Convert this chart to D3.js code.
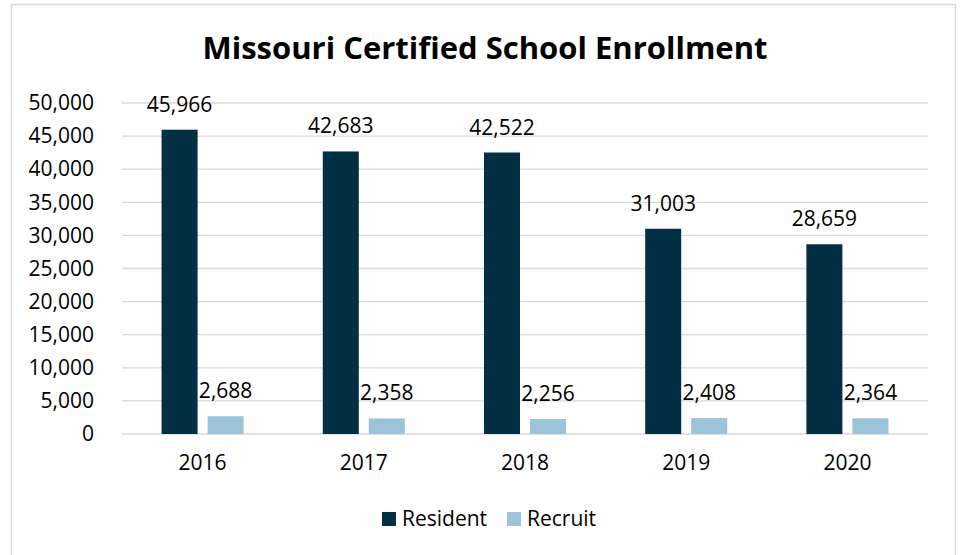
<!DOCTYPE html>
<html>
<head>
<meta charset="utf-8">
<script src="https://cdn.jsdelivr.net/npm/d3@7"></script>
<style>
  body { margin: 0; background: #fff; }
  text { font-family: "Open Sans", sans-serif; fill: #000; }
</style>
</head>
<body>
<div id="chart"></div>
<script>
let years = ['2016', '2017', '2018', '2019', '2020'];
let series = ['Resident', 'Recruit'];
let resident = [45966, 42683, 42522, 31003, 28659];
let recruit = [2688, 2358, 2256, 2408, 2364];
let yTicks = [0, 5000, 10000, 15000, 20000, 25000, 30000, 35000, 40000, 45000, 50000];
let title = 'Missouri Certified School Enrollment';

let width = 962;
let height = 555;

let margin = {
  top: 103,
  right: 34,
  bottom: 121,
  left: 122
};

let colors = {Resident: '#032f45', Recruit: '#9bc3d9'};

let data = years.map((y, i) => ({year: y, Resident: resident[i], Recruit: recruit[i]}));

// 年份分组
let x0 = d3.scaleBand()
  .domain(years)
  .range([margin.left, width - margin.right])
  .paddingInner(0.491)
  .paddingOuter(0.2455);

// 组内系列
let x1 = d3.scaleBand()
  .domain(series)
  .range([0, x0.bandwidth()])
  .paddingInner(10 / 46);

let y = d3.scaleLinear()
  .domain([0, 50000])
  .range([height - margin.bottom, margin.top]);

let fmt = d3.format(',');

const svg = d3.select('#chart').append('svg')
  .attr('width', width)
  .attr('height', height);

// 外框
svg.append('rect')
  .attr('x', 11.5)
  .attr('y', 4.5)
  .attr('width', 944)
  .attr('height', 560)
  .attr('fill', '#fff')
  .attr('stroke', '#d9d9d9')
  .attr('stroke-width', 1.5);

svg.append('text')
  .attr('x', 485)
  .attr('y', 59)
  .attr('text-anchor', 'middle')
  .attr('font-size', 31)
  .attr('font-weight', 'bold')
  .text(title);

// 网格线
svg.append('g')
  .selectAll('line')
  .data(yTicks)
  .join('line')
  .attr('x1', margin.left)
  .attr('x2', width - margin.right)
  .attr('y1', d => y(d))
  .attr('y2', d => y(d))
  .attr('stroke', '#d9d9d9')
  .attr('stroke-width', 1.3);

// y轴
svg.append('g')
  .attr('transform', `translate(94, 0)`)
  .call(d3.axisLeft(y).tickValues(yTicks).tickFormat(fmt).tickSize(0).tickPadding(0))
  .call(g => g.select('.domain').remove())
  .call(g => g.selectAll('text')
    .attr('font-family', '"Open Sans", sans-serif')
    .attr('font-size', 21)
    .attr('fill', '#000'));

// x轴
svg.append('g')
  .attr('transform', `translate(0, ${height - margin.bottom})`)
  .call(d3.axisBottom(x0).tickSize(0).tickPadding(21))
  .call(g => g.select('.domain').remove())
  .call(g => g.selectAll('text')
    .attr('font-family', '"Open Sans", sans-serif')
    .attr('font-size', 21)
    .attr('fill', '#000'));

let groups = svg.append('g')
  .selectAll('g')
  .data(data)
  .join('g')
  .attr('transform', d => `translate(${x0(d.year)}, 0)`);

groups.selectAll('rect')
  .data(d => series.map(s => ({key: s, value: d[s]})))
  .join('rect')
  .attr('x', d => x1(d.key))
  .attr('y', d => y(d.value))
  .attr('width', x1.bandwidth())
  .attr('height', d => y(0) - y(d.value))
  .attr('fill', d => colors[d.key]);

groups.selectAll('text.label')
  .data(d => series.map(s => ({key: s, value: d[s]})))
  .join('text')
  .attr('class', 'label')
  .attr('x', d => x1(d.key) + x1.bandwidth() / 2)
  .attr('y', d => y(d.value) - 18)
  .attr('text-anchor', 'middle')
  .attr('font-size', 21)
  .text(d => fmt(d.value));

// 图例
let legend = svg.append('g')
  .selectAll('g')
  .data(series)
  .join('g')
  .attr('transform', (d, i) => `translate(${[382, 507][i]}, 512)`);

legend.append('rect')
  .attr('width', 14)
  .attr('height', 14)
  .attr('fill', d => colors[d]);

legend.append('text')
  .attr('x', 20)
  .attr('y', 14)
  .attr('font-size', 21)
  .text(d => d);
</script>
</body>
</html>
